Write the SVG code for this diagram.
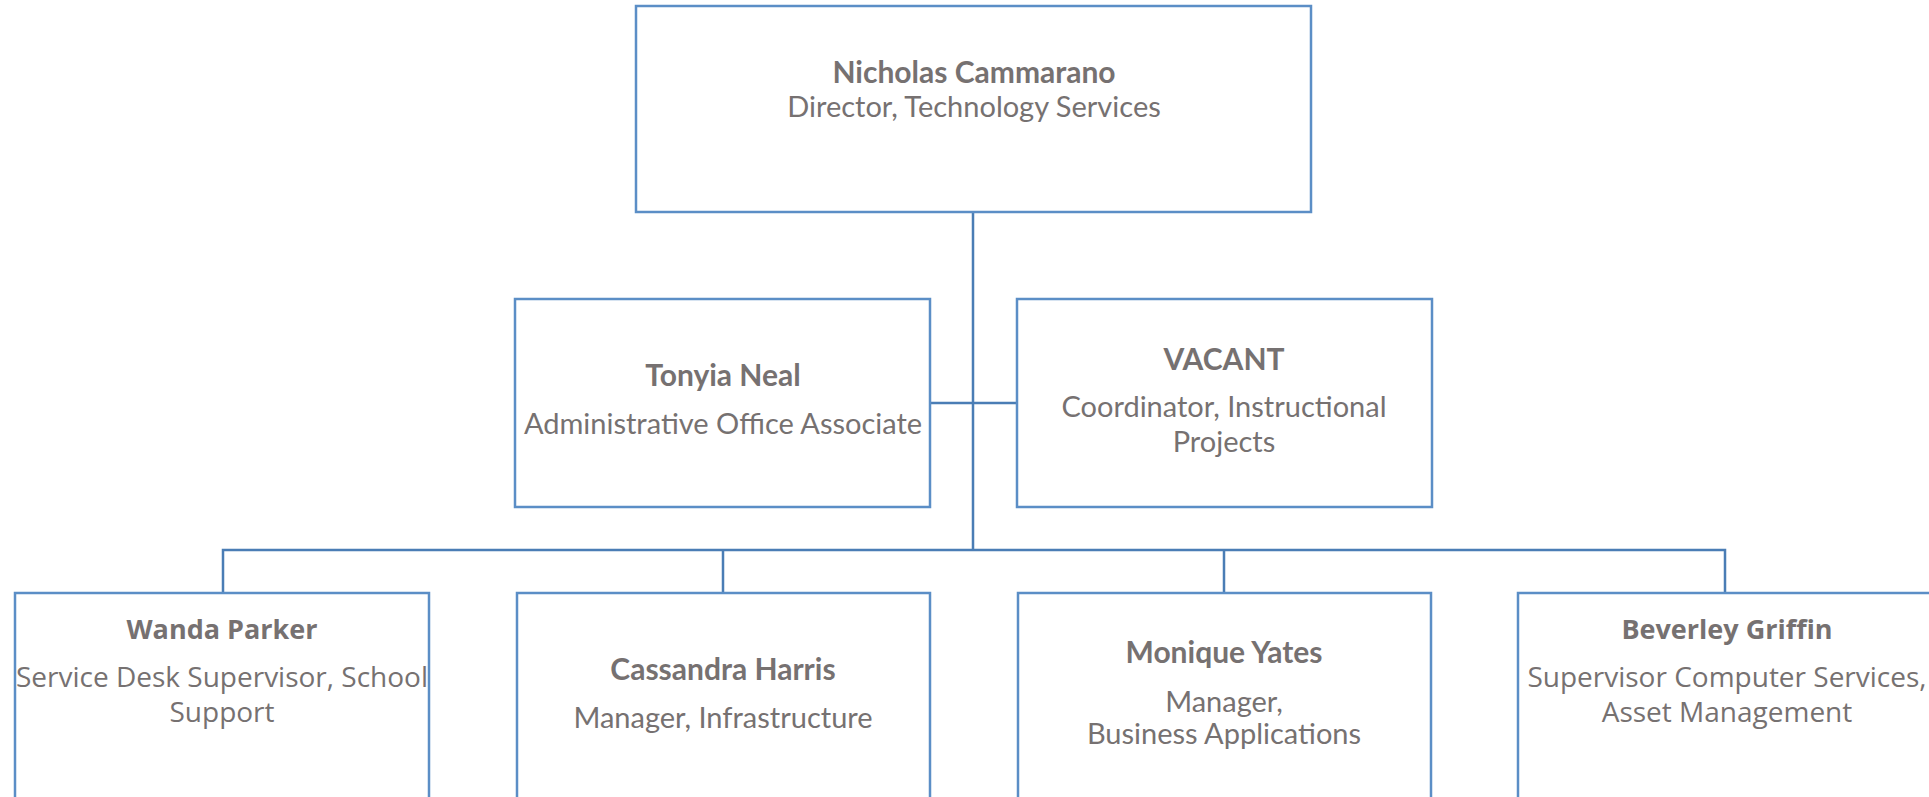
<svg xmlns="http://www.w3.org/2000/svg" width="1929" height="797" viewBox="0 0 1929 797">
<style>
.box{fill:#fff;stroke:#5B8EC6;stroke-width:2.5}
.con{fill:none;stroke:#4A7DB5;stroke-width:2.5}
.c{font-family:Lato,"Liberation Sans",sans-serif;font-size:29px;fill:#767171;text-anchor:middle}
.c.b{font-size:30px}
.s{font-family:"Open Sans","Noto Sans",sans-serif;font-size:28px;fill:#767171;text-anchor:middle}
.s.b{font-size:27px}
.b{font-weight:bold}
</style>
<rect width="1929" height="797" fill="#fff"/>
<g id="connectors">
<path class="con" d="M973,212V550M930,403H1017M223,593V550H1725V593M723,550V593M1224,550V593"/>
</g>
<g id="n-director">
<rect class="box" x="636" y="6" width="675" height="206"/>
<text class="c b" x="974" y="83">Nicholas Cammarano</text>
<text class="c" x="974" y="117">Director, Technology Services</text>
</g>
<g id="n-tonyia">
<rect class="box" x="515" y="299" width="415" height="208"/>
<text class="c b" x="723" y="386">Tonyia Neal</text>
<text class="c" x="723" y="434">Administrative Office Associate</text>
</g>
<g id="n-vacant">
<rect class="box" x="1017" y="299" width="415" height="208"/>
<text class="c b" x="1224" y="370">VACANT</text>
<text class="c" x="1224" y="417">Coordinator, Instructional</text>
<text class="c" x="1224" y="452">Projects</text>
</g>
<g id="n-wanda">
<rect class="box" x="15" y="593" width="414" height="210"/>
<text class="s b" x="222" y="639">Wanda Parker</text>
<text class="s" x="222" y="687">Service Desk Supervisor, School</text>
<text class="s" x="222" y="722">Support</text>
</g>
<g id="n-cassandra">
<rect class="box" x="517" y="593" width="413" height="210"/>
<text class="c b" x="723" y="680">Cassandra Harris</text>
<text class="c" x="723" y="728">Manager, Infrastructure</text>
</g>
<g id="n-monique">
<rect class="box" x="1018" y="593" width="413" height="210"/>
<text class="c b" x="1224" y="663">Monique Yates</text>
<text class="c" x="1224" y="712">Manager,</text>
<text class="c" x="1224" y="744">Business Applications</text>
</g>
<g id="n-beverley">
<rect class="box" x="1518" y="593" width="414" height="210"/>
<text class="s b" x="1727" y="639">Beverley Griffin</text>
<text class="s" x="1727" y="687">Supervisor Computer Services,</text>
<text class="s" x="1727" y="722">Asset Management</text>
</g>
</svg>
